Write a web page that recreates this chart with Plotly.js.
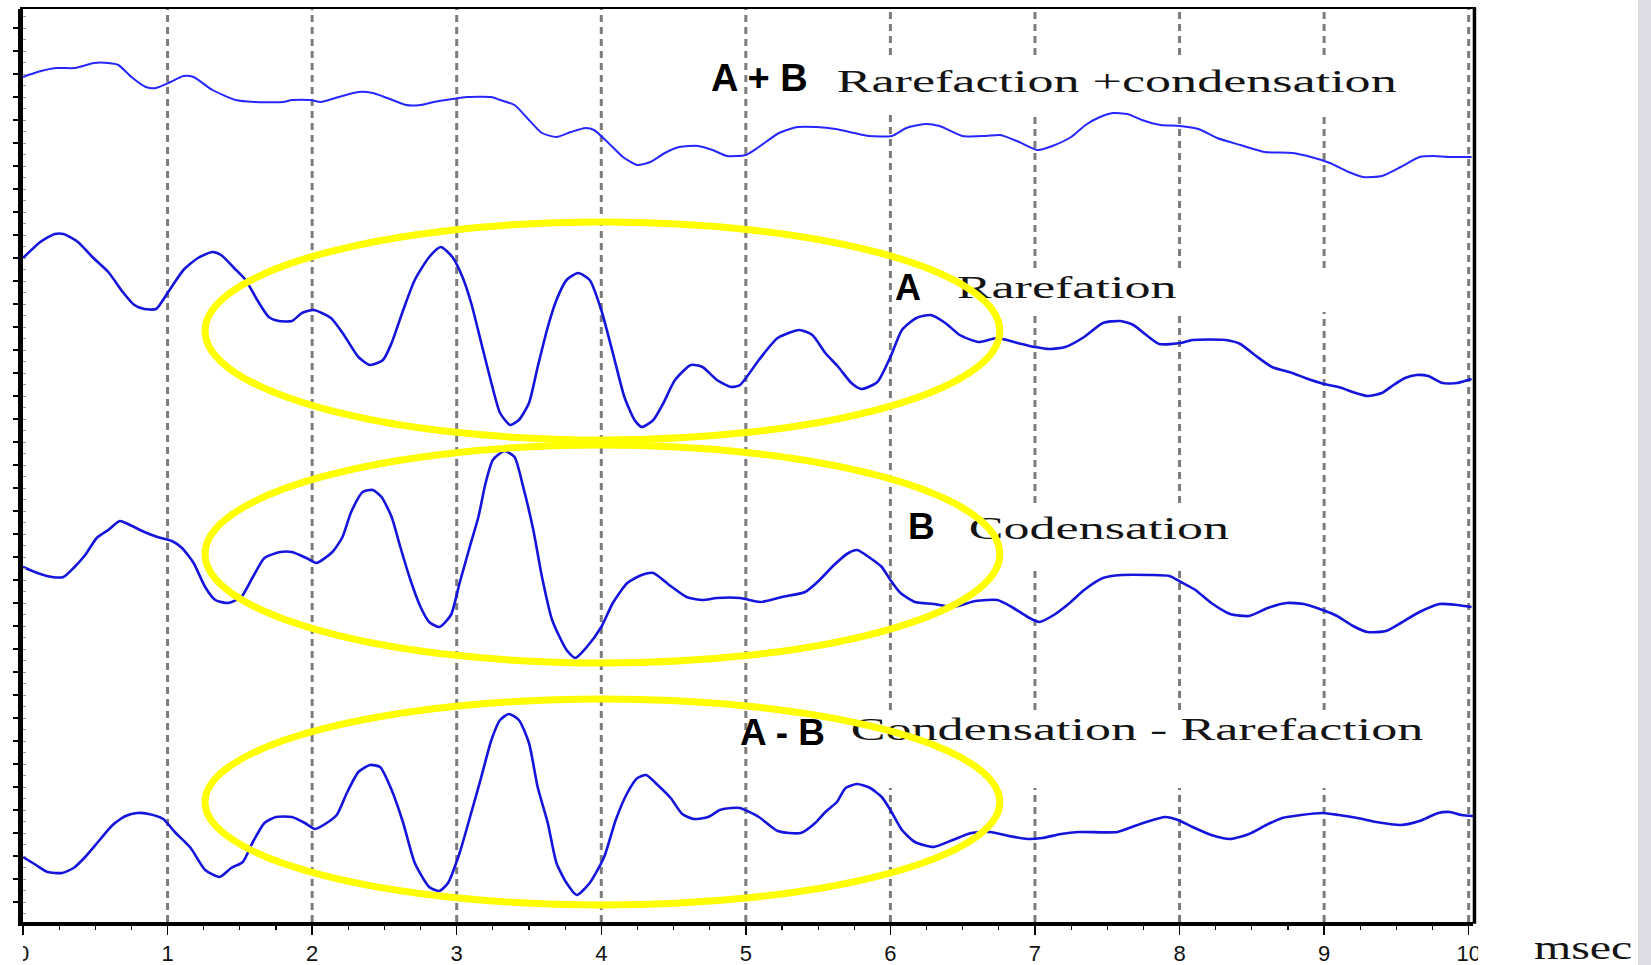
<!DOCTYPE html>
<html><head><meta charset="utf-8">
<script src="https://cdn.plot.ly/plotly-3.0.1.min.js"></script>
<style>
html,body{margin:0;padding:0;background:#fff;}
#chart{width:1651px;height:965px;}
.textpoint text{transform-box:fill-box;transform-origin:0% 50%;transform:scaleX(1.68);}
.annotation[data-index="4"] text{transform-box:fill-box;transform-origin:0% 50%;transform:scaleX(1.45);}
</style></head><body><div id="chart"></div>
<script>
// ---- time axis (msec) ----
const tickVals = [0,1,2,3,4,5,6,7,8,9,10];
const tickText = ['0','1','2','3','4','5','6','7','8','9','10'];
const gridX = [1,2,3,4,5,6,7,8,9,10];

// ---- A + B : Rarefaction + condensation ----
const tSum = [0,0.10,0.23,0.36,0.49,0.59,0.66,0.75,0.85,0.92,1.02,1.11,1.18,1.31,1.47,1.60,1.80,1.86,1.99,2.06,2.16,2.32,2.42,2.52,2.65,2.75,2.84,2.97,3.07,3.24,3.30,3.40,3.50,3.59,3.69,3.79,3.89,3.95,4.05,4.15,4.25,4.34,4.44,4.54,4.67,4.77,4.87,5.00,5.09,5.23,5.36,5.49,5.62,5.75,5.85,6.01,6.11,6.24,6.34,6.50,6.66,6.76,6.89,7.02,7.12,7.25,7.35,7.45,7.54,7.64,7.74,7.87,8.00,8.13,8.26,8.42,8.59,8.78,8.91,9.04,9.17,9.27,9.40,9.53,9.66,9.76,9.86,10.02];
const vSum = [56,61,65,65,70,70,68,56,46,45,51,57,56,43,33,31,31,33,33,31,35,41,40,35,28,28,31,34,36,36,33,28,13,0,-4,1,5,3,-10,-24,-32,-29,-20,-14,-13,-17,-23,-22,-14,0,6,6,4,0,-3,-3,5,9,7,-3,-3,-2,-9,-17,-13,-4,8,16,20,19,13,8,7,4,-5,-12,-19,-20,-24,-30,-39,-44,-43,-34,-24,-23,-24,-24];

// ---- A : Rarefation ----
const tRare = [0,0.12,0.22,0.28,0.38,0.48,0.59,0.69,0.77,0.84,0.92,1.00,1.11,1.21,1.31,1.37,1.46,1.54,1.62,1.70,1.77,1.86,1.93,2.01,2.13,2.22,2.32,2.40,2.49,2.55,2.63,2.71,2.81,2.89,2.97,3.04,3.10,3.17,3.24,3.30,3.37,3.43,3.50,3.56,3.63,3.69,3.76,3.84,3.92,4.00,4.08,4.16,4.23,4.28,4.36,4.43,4.51,4.62,4.70,4.80,4.90,4.96,5.09,5.22,5.37,5.46,5.55,5.64,5.73,5.80,5.91,6.00,6.08,6.18,6.28,6.38,6.48,6.61,6.74,6.88,7.00,7.10,7.21,7.34,7.47,7.59,7.68,7.77,7.86,8.01,8.09,8.32,8.42,8.52,8.64,8.78,8.87,9.00,9.10,9.22,9.30,9.40,9.48,9.56,9.64,9.72,9.82,9.92,10.02];
const vRare = [85,101,109,109,101,86,71,51,38,34,34,50,73,85,91,88,75,63,43,26,22,22,30,33,25,8,-14,-22,-17,0,33,63,86,96,86,66,40,0,-40,-70,-82,-77,-60,-24,16,43,63,70,63,33,-10,-54,-77,-84,-77,-60,-37,-22,-24,-37,-44,-42,-17,5,13,8,-10,-24,-40,-46,-39,-14,13,25,28,20,8,1,5,0,-4,-6,-4,6,20,22,18,8,-1,0,3,3,-1,-12,-24,-30,-35,-41,-44,-50,-53,-50,-42,-35,-32,-33,-40,-40,-36];

// ---- B : Codensation ----
const tCond = [0,0.10,0.20,0.28,0.35,0.43,0.51,0.59,0.67,0.74,0.84,0.93,1.03,1.10,1.18,1.26,1.33,1.42,1.51,1.59,1.67,1.78,1.86,1.96,2.03,2.14,2.21,2.27,2.35,2.42,2.48,2.55,2.61,2.68,2.75,2.81,2.88,2.96,3.02,3.09,3.15,3.20,3.25,3.33,3.40,3.46,3.53,3.59,3.66,3.76,3.82,3.90,4.00,4.08,4.18,4.28,4.36,4.47,4.59,4.70,4.80,4.96,5.10,5.25,5.41,5.51,5.61,5.71,5.77,5.86,5.94,6.00,6.07,6.17,6.30,6.43,6.59,6.74,6.84,6.95,7.03,7.13,7.24,7.34,7.47,7.60,7.80,7.93,8.01,8.11,8.22,8.35,8.48,8.61,8.74,8.86,8.99,9.09,9.20,9.30,9.43,9.53,9.66,9.80,9.92,10.02];
const vCond = [-4,-10,-14,-14,-5,8,25,33,42,38,31,26,22,15,0,-24,-37,-40,-34,-14,5,11,11,5,0,11,26,51,71,73,66,46,16,-17,-44,-59,-64,-52,-20,16,46,80,103,112,106,76,33,-14,-57,-87,-95,-84,-64,-40,-20,-12,-10,-22,-34,-37,-35,-35,-39,-34,-29,-17,-2,10,13,5,-4,-17,-30,-39,-41,-44,-38,-37,-44,-54,-59,-52,-40,-27,-15,-12,-12,-13,-19,-27,-40,-51,-53,-45,-40,-41,-47,-53,-63,-69,-68,-60,-49,-41,-42,-44];

// ---- A - B : Condensation - Rarefaction ----
const tDiff = [0,0.09,0.17,0.27,0.35,0.43,0.53,0.62,0.71,0.79,0.87,0.97,1.05,1.16,1.26,1.36,1.44,1.52,1.59,1.67,1.75,1.86,1.95,2.02,2.09,2.17,2.24,2.32,2.40,2.47,2.55,2.63,2.71,2.81,2.88,2.94,3.02,3.10,3.17,3.24,3.30,3.36,3.43,3.50,3.56,3.63,3.69,3.76,3.83,3.92,4.02,4.10,4.18,4.25,4.31,4.39,4.48,4.56,4.64,4.74,4.82,4.90,4.96,5.09,5.22,5.38,5.48,5.55,5.63,5.69,5.77,5.86,5.94,6.00,6.08,6.17,6.30,6.43,6.56,6.69,6.82,6.95,7.05,7.18,7.30,7.57,7.67,7.77,7.90,7.99,8.09,8.22,8.35,8.48,8.60,8.71,8.84,8.99,9.10,9.23,9.36,9.53,9.66,9.79,9.87,9.95,10.03];
const vDiff = [-34,-42,-49,-50,-45,-34,-17,-2,7,10,9,4,-9,-25,-47,-54,-45,-39,-19,0,6,6,0,-6,-1,8,30,51,58,56,33,0,-40,-64,-68,-60,-30,10,46,83,103,109,103,80,36,0,-40,-60,-72,-60,-34,3,30,45,48,38,25,9,4,6,13,15,15,6,-8,-10,0,11,21,35,39,35,26,13,-7,-19,-24,-17,-10,-9,-13,-16,-15,-11,-9,-9,-4,1,6,3,-4,-12,-16,-11,-2,5,8,10,8,5,1,-2,2,10,11,8,7];

// vertical offsets of each waveform on the stacked display
const offSum = 790, offRare = 580, offCond = 360, offDiff = 100;

// labels
const boldLabels = ['A + B', 'A', 'B', 'A - B'];
const serifLabels = ['Rarefaction +condensation', 'Rarefation', 'Codensation', 'Condensation - Rarefaction'];
const unitLabel = 'msec';

// ---------------------------------------------------------------
const Y_TOP = 914, Y_BOT = 1;
const shift = (arr, off) => arr.map(v => v + off);
const lineStyle = (c, w) => ({color: c, width: w, shape: 'spline', smoothing: 0.6});

const traces = [
  {x: tSum,  y: shift(vSum, offSum),   mode: 'lines', line: lineStyle('#2626ff', 2.0), hoverinfo: 'skip'},
  {x: tRare, y: shift(vRare, offRare), mode: 'lines', line: lineStyle('#1414dc', 2.6), hoverinfo: 'skip'},
  {x: tCond, y: shift(vCond, offCond), mode: 'lines', line: lineStyle('#1414dc', 2.6), hoverinfo: 'skip'},
  {x: tDiff, y: shift(vDiff, offDiff), mode: 'lines', line: lineStyle('#1414dc', 2.6), hoverinfo: 'skip'}
];

// serif labels as text marks (drawn under the yellow ellipses)
const serifPos = [[5.629, 839], [6.459, 633], [6.542, 392], [5.726, 191]];
serifLabels.forEach((s, i) => {
  traces.push({x: [serifPos[i][0]], y: [serifPos[i][1]], mode: 'text', text: [s],
    textposition: 'middle right', hoverinfo: 'skip',
    textfont: {family: '"Liberation Serif", "Times New Roman", serif', size: 31, color: '#141414'}});
});

// dotted grid lines, with the blank boxes left by the original labels
const GRID_GAPS = [
  {from: 6, to: 9, lo: 811, hi: 868},
  {from: 7, to: 9, lo: 611, hi: 655},
  {from: 7, to: 8, lo: 356, hi: 420},
  {from: 6, to: 9, lo: 135, hi: 213}
];
const shapes = [];
const gridLine = {color: '#7c7c7c', width: 3, dash: '7px,5px'};
gridX.forEach(g => {
  const gaps = GRID_GAPS.filter(d => g >= d.from && g <= d.to).sort((a, b) => b.hi - a.hi);
  let cur = Y_TOP;
  gaps.forEach(d => {
    shapes.push({type: 'line', xref: 'x', yref: 'y', x0: g, x1: g, y0: d.hi, y1: cur, line: gridLine, layer: 'below'});
    cur = d.lo;
  });
  shapes.push({type: 'line', xref: 'x', yref: 'y', x0: g, x1: g, y0: Y_BOT, y1: cur, line: gridLine, layer: 'below'});
});

// yellow highlight ellipses
const ell = {color: '#ffff00', width: 7};
[[483, 701], [260, 478], [18, 224]].forEach(([a, b]) => {
  shapes.push({type: 'circle', xref: 'x', yref: 'y', x0: 1.259, x1: 6.757, y0: a, y1: b, line: ell, layer: 'above'});
});

// top / right frame
shapes.push({type: 'line', xref: 'paper', yref: 'paper', x0: -0.002, x1: 1.002, y0: 1.001, y1: 1.001, line: {color: '#000', width: 2}, layer: 'above'});
shapes.push({type: 'line', xref: 'paper', yref: 'paper', x0: 1.001, x1: 1.001, y0: -0.002, y1: 1.001, line: {color: '#000', width: 3.5}, layer: 'above'});
// clipped tick labels at both ends
shapes.push({type: 'rect', xref: 'paper', yref: 'paper', x0: -0.02, x1: 0.0, y0: -0.0165, y1: -0.06, fillcolor: '#fff', line: {width: 0}, layer: 'above'});
shapes.push({type: 'rect', xref: 'paper', yref: 'paper', x0: 1.0035, x1: 1.035, y0: -0.0165, y1: -0.06, fillcolor: '#fff', line: {width: 0}, layer: 'above'});
// faint strip of background photo at far right
shapes.push({type: 'rect', xref: 'paper', yref: 'paper', x0: 1.1138, x1: 1.13, y0: -0.06, y1: 1.02, fillcolor: '#dcdce2', line: {width: 0}, layer: 'below'});

const boldPos = [[5.097, 845, 38], [6.12, 636, 36], [6.217, 397, 37], [5.256, 191, 37]];
const annotations = boldLabels.map((s, i) => ({
  x: boldPos[i][0], y: boldPos[i][1], xref: 'x', yref: 'y', text: '<b>' + s + '</b>', showarrow: false,
  xanchor: 'center', yanchor: 'middle',
  font: {family: '"Liberation Sans", Arial, sans-serif', size: boldPos[i][2], color: '#000'}
}));
annotations.push({x: 1.0407, y: -0.029, xref: 'paper', yref: 'paper', text: unitLabel, showarrow: false,
  xanchor: 'left', yanchor: 'middle',
  font: {family: '"Liberation Serif", "Times New Roman", serif', size: 33, color: '#141414'}});

const layout = {
  width: 1651, height: 965,
  margin: {l: 23, r: 178, t: 9, b: 43, pad: 0},
  paper_bgcolor: '#fff', plot_bgcolor: '#fff',
  showlegend: false,
  xaxis: {
    range: [0, 10.03], showgrid: false, zeroline: false,
    showline: true, linecolor: '#000', linewidth: 4,
    ticks: 'outside', ticklen: 9, tickwidth: 1.5, tickcolor: '#000',
    tickmode: 'array', tickvals: tickVals, ticktext: tickText,
    ticklabelstandoff: 0,
    tickfont: {family: '"Liberation Sans", Arial, sans-serif', size: 22, color: '#111'},
    minor: {ticks: 'outside', ticklen: 4, tickwidth: 1.2, tickcolor: '#000', dtick: 0.25, tick0: 0, showgrid: false}
  },
  yaxis: {
    range: [Y_BOT, Y_TOP], showgrid: false, zeroline: false,
    showline: true, linecolor: '#000', linewidth: 5,
    ticks: 'outside', ticklen: 5, tickwidth: 1.2, tickcolor: '#000',
    tick0: 895, dtick: 23, showticklabels: false,
    minor: {ticks: 'inside', ticklen: 3, tickwidth: 1, tickcolor: '#999', dtick: 11.5, tick0: 895, showgrid: false}
  },
  shapes: shapes,
  annotations: annotations
};

Plotly.newPlot('chart', traces, layout, {staticPlot: true, displayModeBar: false});
</script></body></html>
